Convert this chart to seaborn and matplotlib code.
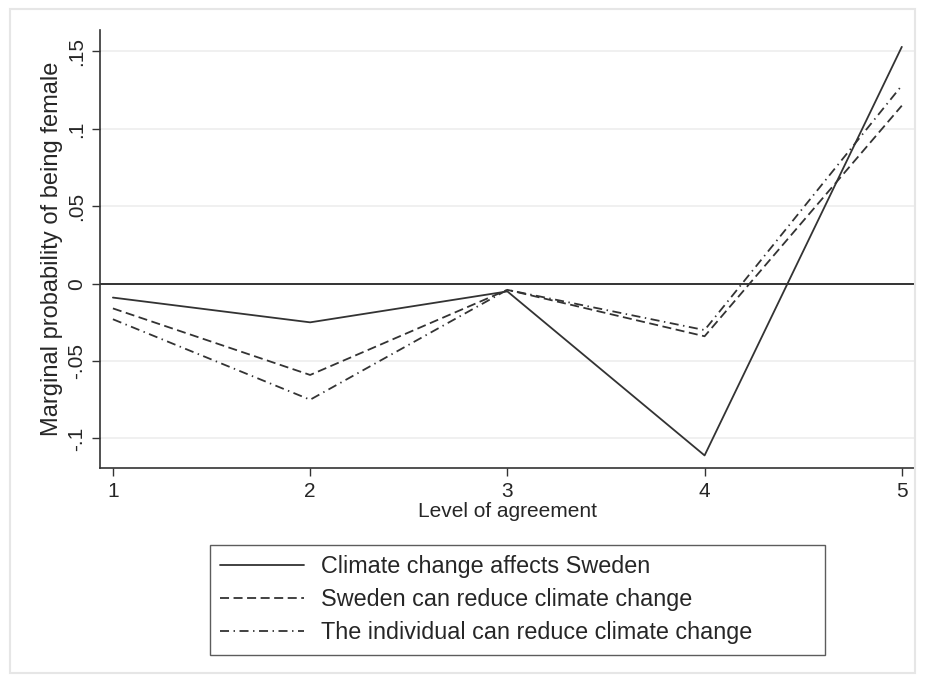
import matplotlib.pyplot as plt
import pandas as pd
import seaborn as sns
from matplotlib.patches import Rectangle

# Data
levels = [1, 2, 3, 4, 5]
affects_sweden = [-0.009, -0.025, -0.005, -0.111, 0.153]
sweden_can_reduce = [-0.016, -0.059, -0.004, -0.034, 0.115]
individual_can_reduce = [-0.023, -0.075, -0.004, -0.030, 0.128]
series_names = [
    "Climate change affects Sweden",
    "Sweden can reduce climate change",
    "The individual can reduce climate change",
]
ytick_vals = [-0.1, -0.05, 0, 0.05, 0.1, 0.15]
ytick_labels = ["-.1", "-.05", "0", ".05", ".1", ".15"]

df = pd.DataFrame({
    "level": levels * 3,
    "value": affects_sweden + sweden_can_reduce + individual_can_reduce,
    "series": [s for s in series_names for _ in levels],
})

sns.set_theme(style="white")
plt.rcParams["font.family"] = ["Liberation Sans", "DejaVu Sans"]

fig = plt.figure(figsize=(9.25, 6.78), dpi=100)
fig.patches.append(Rectangle((0.011, 0.008), 0.978, 0.978, transform=fig.transFigure,
                             fill=False, edgecolor="#e6e6e6", linewidth=1.5))
ax = fig.add_axes([0.108, 0.310, 0.881, 0.646])

# horizontal grid lines
for v in ytick_vals:
    ax.axhline(v, color="#eeeeee", linewidth=1.2, zorder=0)
ax.axhline(0, color="#333333", linewidth=1.4, zorder=1)

dashes = {
    series_names[0]: "",
    series_names[1]: (5, 2.5),
    series_names[2]: (5, 2.5, 0.8, 2.5),
}
sns.lineplot(data=df, x="level", y="value", style="series", dashes=dashes,
             color="#333333", linewidth=1.3, ax=ax, legend=True, zorder=3)

ax.set_xlim(0.934, 5.066)
ax.set_ylim(-0.119, 0.164)
ax.set_xticks(levels)
ax.set_xticklabels([str(l) for l in levels], fontsize=15)
ax.set_yticks(ytick_vals)
ax.set_yticklabels(ytick_labels, fontsize=15, rotation=90, va="center")
ax.tick_params(axis="both", length=6, width=1, color="#333333", direction="out",
               bottom=True, left=True, pad=4)
ax.set_xlabel("Level of agreement", fontsize=15, labelpad=1)
ax.set_ylabel("Marginal probability of being female", fontsize=17, labelpad=3)
for side in ["top", "right"]:
    ax.spines[side].set_visible(False)
for side in ["left", "bottom"]:
    ax.spines[side].set_color("#333333")
    ax.spines[side].set_linewidth(1.2)

handles, labels = ax.get_legend_handles_labels()
leg = ax.legend(handles, labels, loc="upper left", bbox_to_anchor=(0.135, -0.176, 0.755, 0),
                mode="expand", borderaxespad=0,
                frameon=True, fancybox=False, edgecolor="#333333", fontsize=16.8,
                handlelength=3.6, handletextpad=0.7, borderpad=0.45,
                labelspacing=0.42, title=None)
leg.get_frame().set_linewidth(1.0)

fig.savefig("out.png", dpi=100)
